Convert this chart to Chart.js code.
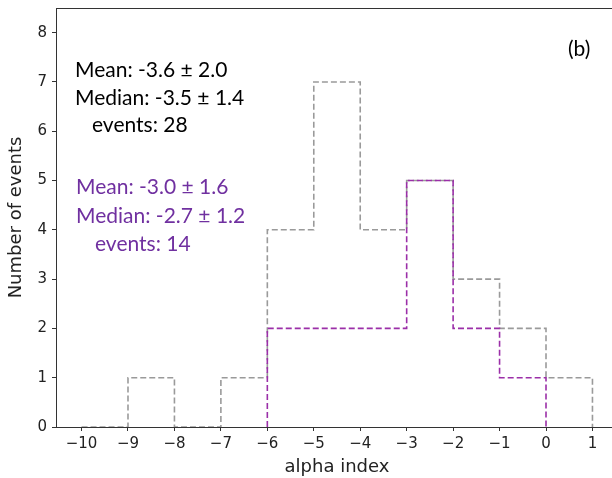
<!DOCTYPE html>
<html><head><meta charset="utf-8">
<script src="https://cdn.jsdelivr.net/npm/chart.js@4"></script>
<style>html,body{margin:0;padding:0;overflow:hidden;background:#fff;width:612px;height:478px}canvas{display:block}</style>
</head><body>
<canvas id="c" width="640" height="478"></canvas>
<script>
// ---- data ----
const binEdges = [-10,-9,-8,-7,-6,-5,-4,-3,-2,-1,0,1];
const allCounts = [0,1,0,1,4,7,4,5,3,2,1];
const subEdges = [-6,-5,-4,-3,-2,-1,0];
const subCounts = [2,2,2,5,2,1];
const xTickValues = [-10,-9,-8,-7,-6,-5,-4,-3,-2,-1,0,1];
const yTickValues = [0,1,2,3,4,5,6,7,8];
const statsAll = ['Mean: -3.6 ± 2.0','Median: -3.5 ± 1.4','  events: 28'];
const statsSub = ['Mean: -3.0 ± 1.6','Median: -2.7 ± 1.2','  events: 14'];
const panelLabel = '(b)';
const xTitle = 'alpha index';
const yTitle = 'Number of events';

function stepPoints(edges, counts){
  const pts = [{x: edges[0], y: 0}];
  counts.forEach((c,i)=>pts.push({x: edges[i], y: c}));
  pts.push({x: edges[edges.length-1], y: 0});
  return pts;
}

const tickFont = {family: 'DejaVu Sans', size: 15};
const titleFont = {family: 'DejaVu Sans', size: 18};

const framePlugin = {
  id: 'frame',
  afterDatasetsDraw(chart){
    const {ctx, chartArea:a} = chart;
    ctx.save();
    ctx.strokeStyle = '#333';
    ctx.lineWidth = 1;
    ctx.beginPath();
    ctx.moveTo(a.left, a.top + 0.5);
    ctx.lineTo(a.right, a.top + 0.5);
    ctx.moveTo(a.left, a.bottom + 0.5);
    ctx.lineTo(a.right, a.bottom + 0.5);
    ctx.stroke();
    ctx.restore();
  },
  afterDraw(chart){
    const ctx = chart.ctx;
    ctx.save();
    ctx.textBaseline = 'alphabetic';
    ctx.font = '21px Lato';
    ctx.fillStyle = '#000';
    const yA = [77, 105, 132];
    statsAll.forEach((s,i)=>{
      const t = s.trimStart();
      const x = s.startsWith(' ') ? 92 : 75;
      ctx.fillText(t, x, yA[i]);
    });
    ctx.fillStyle = '#7030A0';
    const yB = [194, 223, 251];
    statsSub.forEach((s,i)=>{
      const t = s.trimStart();
      const x = s.startsWith(' ') ? 95 : 76;
      ctx.fillText(t, x, yB[i]);
    });
    ctx.fillStyle = '#000';
    ctx.fillText(panelLabel, 568, 56);
    ctx.restore();
  }
};

new Chart(document.getElementById('c'), {
  type: 'line',
  data: {
    datasets: [
      {
        data: stepPoints(subEdges, subCounts),
        borderColor: '#9b2fa8',
        borderWidth: 1.6,
        borderDash: [6,3],
        stepped: 'before',
        pointRadius: 0,
        fill: false
      },
      {
        data: stepPoints(binEdges, allCounts),
        borderColor: '#9a9a9a',
        borderWidth: 1.6,
        borderDash: [6,3],
        stepped: 'before',
        pointRadius: 0,
        fill: false
      }
    ]
  },
  options: {
    responsive: false,
    animation: false,
    events: [],
    layout: {padding: {left: 0, top: 8, right: 22, bottom: 0}},
    plugins: {legend: {display: false}, tooltip: {enabled: false}},
    scales: {
      x: {
        type: 'linear',
        min: -10.55, max: 1.55,
        afterBuildTicks: s => { s.ticks = xTickValues.map(v => ({value: v})); },
        afterFit: s => { s.height = 51; s.paddingLeft = 0; s.paddingRight = 0; },
        ticks: {
          font: tickFont, color: '#222', padding: 4,
          maxRotation: 0, autoSkip: false,
          callback: v => String(v).replace('-', '\u2212')
        },
        grid: {drawOnChartArea: false, drawTicks: true, tickLength: 4, tickColor: '#333', tickWidth: 1},
        border: {display: true, color: '#333', width: 1},
        title: {display: true, text: xTitle, font: titleFont, color: '#222', padding: {top: 0, bottom: 0}}
      },
      y: {
        type: 'linear',
        min: 0, max: 8.5,
        afterBuildTicks: s => { s.ticks = yTickValues.map(v => ({value: v})); },
        afterFit: s => { s.width = 56; s.paddingTop = 0; s.paddingBottom = 0; },
        ticks: {font: tickFont, color: '#222', padding: 5, autoSkip: false},
        grid: {drawOnChartArea: false, drawTicks: true, tickLength: 4, tickColor: '#333', tickWidth: 1},
        border: {display: true, color: '#333', width: 1},
        title: {display: true, text: yTitle, font: titleFont, color: '#222', padding: {top: 6, bottom: 0}}
      }
    }
  },
  plugins: [framePlugin]
});
</script>
</body></html>
